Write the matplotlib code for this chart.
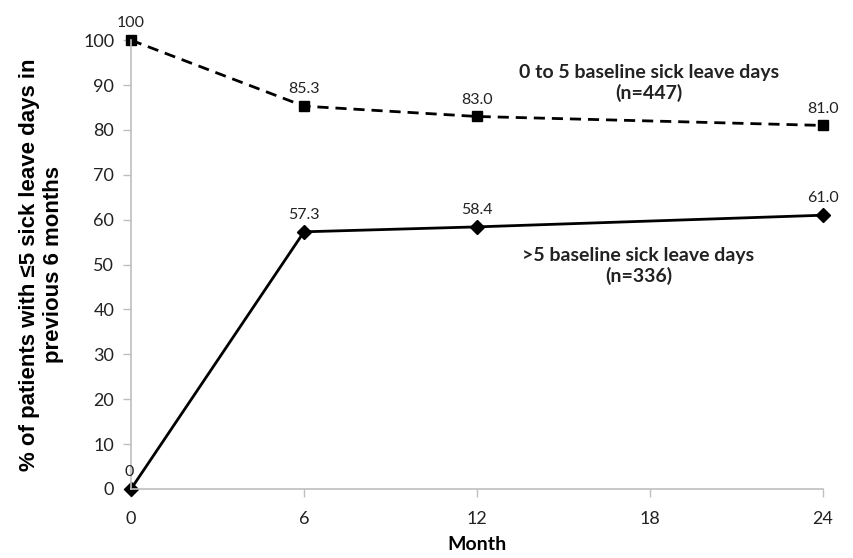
import numpy as np
import matplotlib.pyplot as plt

month = [0, 6, 12, 24]
low_base = [100, 85.3, 83.0, 81.0]      # 0 to 5 baseline sick leave days
high_base = [0, 57.3, 58.4, 61.0]       # >5 baseline sick leave days
low_lbl = ['100', '85.3', '83.0', '81.0']
high_lbl = ['0', '57.3', '58.4', '61.0']

plt.rcParams['font.family'] = ['Lato', 'DejaVu Sans']

fig = plt.figure(figsize=(8.54, 5.58), dpi=100)
ax = fig.add_axes([0.1534, 0.1237, 0.8103, 0.8043])

ax.plot(month, low_base, color='black', lw=2, ls=(0, (4, 2.5)), marker='s', ms=7)
ax.plot(month, high_base, color='black', lw=2, marker='D', ms=7)

for x, y, s in zip(month, low_base, low_lbl):
    ax.annotate(s, (x, y), xytext=(0, 7), textcoords='offset points',
                ha='center', va='bottom', fontsize=11.5, color='#222222')
for x, y, s in zip(month, high_base, high_lbl):
    dx = -1 if x == 0 else 0
    ax.annotate(s, (x, y), xytext=(dx, 7), textcoords='offset points',
                ha='center', va='bottom', fontsize=11.5, color='#222222')

ax.text(17.96, 90.4, '0 to 5 baseline sick leave days\n(n=447)', ha='center', va='center',
        fontsize=14, fontweight='bold', color='#222222', linespacing=1.2)
ax.text(17.6, 49.7, '>5 baseline sick leave days\n(n=336)', ha='center', va='center',
        fontsize=14, fontweight='bold', color='#222222', linespacing=1.2)

ax.set_xlim(0, 24)
ax.set_ylim(0, 100)
ax.set_xticks([0, 6, 12, 18, 24])
ax.set_yticks(np.arange(0, 101, 10))
for sp in ['top', 'right']:
    ax.spines[sp].set_visible(False)
for sp in ['left', 'bottom']:
    ax.spines[sp].set_color('#bfbfbf')
    ax.spines[sp].set_linewidth(1.2)
ax.tick_params(axis='both', colors='#bfbfbf', labelcolor='#222222', labelsize=13, length=6, width=1)
ax.tick_params(axis='x', pad=10)
ax.tick_params(axis='y', pad=6)
for c in ax.get_lines():
    c.set_clip_on(False)

ax.set_xlabel('Month', fontsize=14, fontweight='bold', labelpad=6)
ax.set_ylabel('% of patients with \u22645 sick leave days in\nprevious 6 months', fontsize=16,
              fontweight='bold', family=['Liberation Sans', 'DejaVu Sans'], labelpad=14,
              linespacing=1.2)

fig.savefig('out.png', dpi=100)
